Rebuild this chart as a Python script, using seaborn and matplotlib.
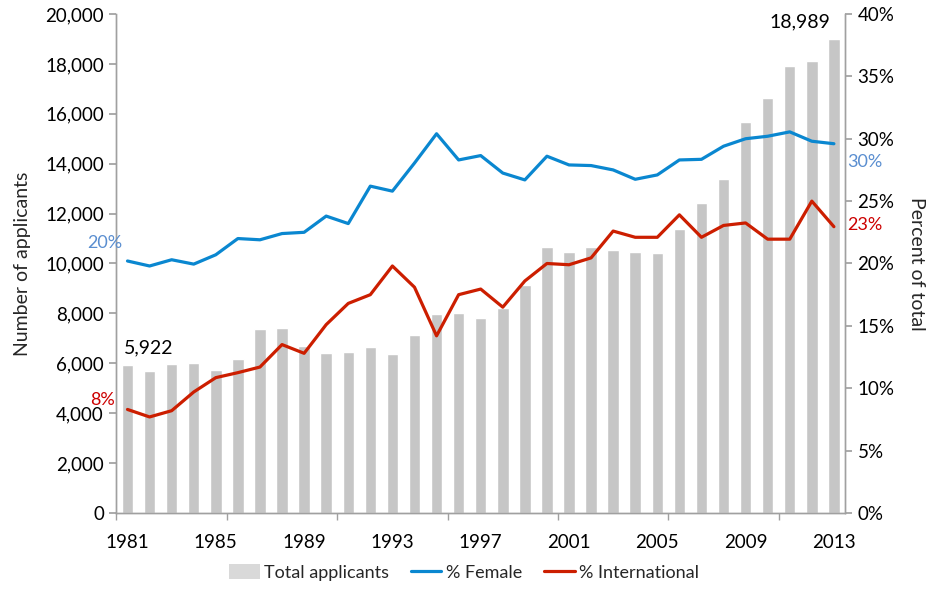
import numpy as np
import pandas as pd
import matplotlib
matplotlib.use("Agg")
import matplotlib.pyplot as plt
import seaborn as sns
from matplotlib.patches import Patch
from matplotlib.ticker import FuncFormatter, FixedLocator

# data
years = list(range(1981, 2014))
applicants = [5922, 5700, 5960, 6010, 5740, 6190, 7360, 7430, 6680, 6410, 6450,
              6650, 6390, 7130, 7960, 8010, 7820, 8210, 9120, 10650, 10470, 10660,
              10560, 10460, 10430, 11390, 12420, 13400, 15680, 16630, 17900, 18120,
              18989]
pct_female = [20.2, 19.8, 20.3, 19.95, 20.7, 22.0, 21.9, 22.4, 22.5, 23.8, 23.2,
              26.2, 25.8, 28.05, 30.4, 28.3, 28.65, 27.25, 26.7, 28.6, 27.9, 27.85,
              27.5, 26.75, 27.1, 28.3, 28.35, 29.4, 30.0, 30.2, 30.55, 29.8, 29.6]
pct_intl = [8.3, 7.7, 8.2, 9.7, 10.85, 11.25, 11.7, 13.5, 12.8, 15.1, 16.8, 17.5,
            19.8, 18.1, 14.2, 17.5, 17.95, 16.5, 18.6, 20.0, 19.9, 20.45, 22.6,
            22.1, 22.1, 23.9, 22.1, 23.05, 23.25, 21.95, 21.95, 25.0, 22.95]

df = pd.DataFrame({"year": years, "applicants": applicants,
                   "female": pct_female, "intl": pct_intl})
df["pos"] = np.arange(len(df))

BAR = "#C6C6C6"
BLUE = "#0A87D0"
RED = "#CC1E00"
AXIS = "#A0A0A0"

sns.set_theme(style="white")
plt.rcParams["font.family"] = ["Lato", "DejaVu Sans"]

fig = plt.figure(figsize=(9.28, 5.90), dpi=100)
ax = fig.add_axes([0.1255, 0.1305, 0.785, 0.8458])

sns.barplot(data=df, x="pos", y="applicants", color=BAR, width=0.52,
            saturation=1, ax=ax, native_scale=True)
ax.set_xlim(-0.5, len(df) - 0.5)
ax.set_ylim(0, 20000)
ax.yaxis.set_major_locator(FixedLocator(np.arange(0, 20001, 2000)))
ax.yaxis.set_major_formatter(FuncFormatter(lambda v, p: f"{v:,.0f}"))
ax.set_ylabel("Number of applicants", fontsize=14, labelpad=10)
ax.set_xlabel("")

label_pos = df["pos"][::4].tolist()
ax.xaxis.set_major_locator(FixedLocator(label_pos))
ax.set_xticklabels([str(y) for y in df["year"][::4]])
ax.xaxis.set_minor_locator(FixedLocator(np.arange(-0.5, len(df), 5)))

ax2 = ax.twinx()
sns.lineplot(data=df, x="pos", y="female", color=BLUE, lw=2.3, ax=ax2, label="% Female")
sns.lineplot(data=df, x="pos", y="intl", color=RED, lw=2.3, ax=ax2, label="% International")
ax2.set_ylim(0, 40)
ax2.yaxis.set_major_locator(FixedLocator(np.arange(0, 41, 5)))
ax2.yaxis.set_major_formatter(FuncFormatter(lambda v, p: f"{v:.0f}%"))
ax2.set_ylabel("Percent of total", fontsize=14, rotation=270, labelpad=22)
ax2.set_xlabel("")
ax2.set_xlim(-0.5, len(df) - 0.5)

for a in (ax, ax2):
    a.spines["top"].set_visible(False)
    for s in ("left", "right", "bottom"):
        a.spines[s].set_color(AXIS)
        a.spines[s].set_linewidth(1.0)

ax.tick_params(axis="y", which="major", left=True, length=5, color=AXIS,
               labelsize=13.5, labelcolor="black", pad=4)
ax.tick_params(axis="x", which="major", bottom=False, labelsize=13.5,
               labelcolor="black", pad=9)
ax.tick_params(axis="x", which="minor", bottom=True, length=5, color=AXIS)
ax2.tick_params(axis="y", which="major", right=True, length=5, color=AXIS,
                labelsize=13.5, labelcolor="black", pad=4)

# end labels
n0, n1 = int(df["applicants"].iloc[0]), int(df["applicants"].iloc[-1])
f0, f1 = df["female"].iloc[0], df["female"].iloc[-1]
i0, i1 = df["intl"].iloc[0], df["intl"].iloc[-1]
p0, p1 = df["pos"].iloc[0], df["pos"].iloc[-1]
ax.text(p0 - 0.15, n0 + 350, f"{n0:,}", fontsize=14, color="black",
        ha="left", va="bottom")
ax.text(p1 - 0.15, n1 + 350, f"{n1:,}", fontsize=14, color="black",
        ha="right", va="bottom")
ax2.text(p0 - 0.25, f0 + 1.45, f"{f0:.0f}%", fontsize=13, color="#5A8ED0",
         ha="right", va="center", clip_on=False)
ax2.text(p0 - 0.55, i0 + 0.75, f"{i0:.0f}%", fontsize=13, color="#CC0000",
         ha="right", va="center", clip_on=False)
ax2.text(p1 + 0.6, f1 - 1.45, f"{f1:.0f}%", fontsize=13, color="#5A8ED0",
         ha="left", va="center", clip_on=False)
ax2.text(p1 + 0.6, i1 + 0.1, f"{i1:.0f}%", fontsize=13, color="#CC0000",
         ha="left", va="center", clip_on=False)

# legend at the bottom
h2, l2 = ax2.get_legend_handles_labels()
if ax2.get_legend():
    ax2.get_legend().remove()
bar_handle = Patch(facecolor="#D9D9D9", edgecolor="none")
fig.legend([bar_handle] + h2, ["Total applicants"] + l2, loc="lower center",
           bbox_to_anchor=(0.5, -0.012), ncol=3, frameon=False, fontsize=13,
           handlelength=1.7, handleheight=0.9, columnspacing=1.2, handletextpad=0.25)

fig.savefig("out.png", dpi=100)
